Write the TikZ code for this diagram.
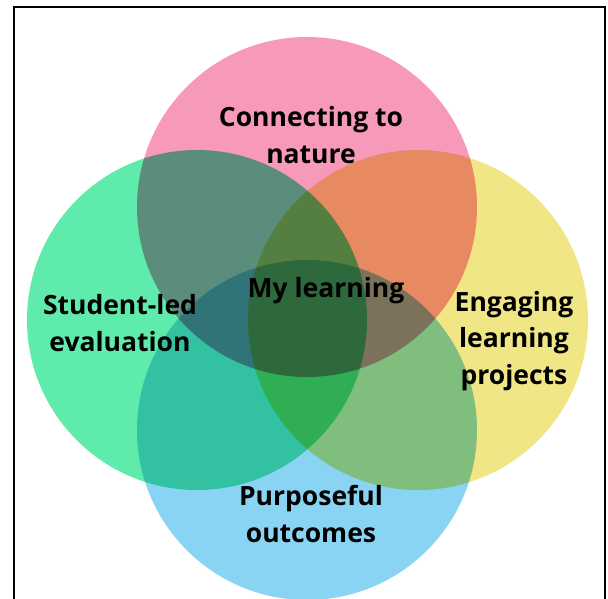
\documentclass[tikz,border=0pt]{standalone}
\usepackage{fontspec}
\setmainfont{Open Sans}
\usepackage{tikz}
\usetikzlibrary{positioning}
\definecolor{natpink}{RGB}{247,153,187}
\definecolor{evalgreen}{RGB}{94,235,171}
\definecolor{projyellow}{RGB}{240,230,133}
\definecolor{outblue}{RGB}{137,211,243}
\tikzstyle{venn} = [circle, draw=none, inner sep=0pt, minimum size=340pt]
\tikzstyle{label} = [align=center, font=\fontsize{26.5}{36.5}\selectfont\bfseries]

\begin{document}
\begin{tikzpicture}[x=1pt, y=-1pt]
\useasboundingbox (0,0) rectangle (608,598);

\draw[line width=1.5pt] (14,610) -- (14,7) -- (605,7) -- (605,610);

\begin{scope}[blend group=multiply]
\node[venn, fill=natpink](nature) at (307,207) {};
\node[venn, fill=evalgreen](eval) at (197,320) {};
\node[venn, fill=projyellow](proj) at (418,320) {};
\node[venn, fill=outblue](outc) at (307,430) {};
\end{scope}

\node[label] (naturetxt) at (311,135) {Connecting to\\nature};
\node[label] (evaltxt) at (120,323) {Student-led\\evaluation};
\node[label] (projtxt) at (514,341) {Engaging\\learning\\projects};
\node[label] (outctxt) at (311,514) {Purposeful\\outcomes};
\node[label] (mytxt) at (326,291) {My learning};

\end{tikzpicture}
\end{document}
